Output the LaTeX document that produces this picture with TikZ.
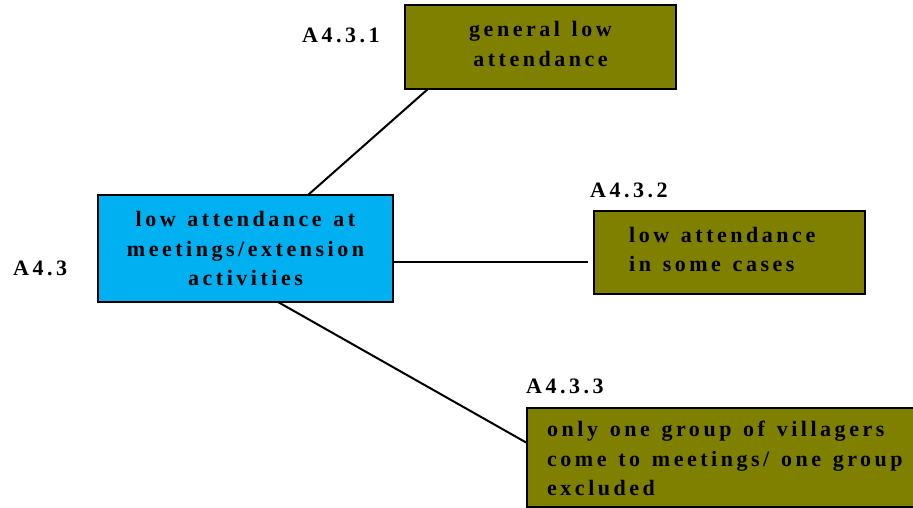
\documentclass[tikz,border=0pt]{standalone}
\usepackage{fontspec}
\setmainfont{Liberation Serif}[LetterSpace=16,WordSpace=1.3]
\usetikzlibrary{calc}
\definecolor{olivebox}{RGB}{128,128,0}
\definecolor{bluebox}{RGB}{0,176,240}
\tikzset{
  txt/.style={font=\bfseries\fontsize{22}{29.5}\selectfont},
  box/.style={draw=black, line width=2pt, txt, inner sep=0pt, outer sep=0pt},
  obox/.style={box, fill=olivebox},
  bbox/.style={box, fill=bluebox},
  lab/.style={txt, inner sep=0pt, anchor=west},
  btxt/.style={txt, inner sep=0pt, align=left, anchor=west},
  link/.style={draw=black, line width=2pt}
}
\begin{document}
\begin{tikzpicture}[x=1pt,y=-1pt]
\useasboundingbox (0,0) rectangle (913,508);
\clip (0,0) rectangle (913,508);
% central box
\node[bbox, minimum width=295pt, minimum height=107pt, align=center] (c) at (245.5,248.5)
  {low attendance at\\meetings/extension\\activities};
% A4.3.1
\node[obox, minimum width=271pt, minimum height=84pt] (a1) at (540.5,47) {};
\node[txt, inner sep=0pt, align=center] (t1) at ([yshift=3pt]a1.center) {general low\\attendance};
% A4.3.2
\node[obox, minimum width=271pt, minimum height=83pt] (a2) at (729.5,252.5) {};
\node[btxt] (t2) at ([xshift=35pt,yshift=3pt]a2.west) {low attendance\\in some cases};
% A4.3.3
\node[obox, minimum width=400pt, minimum height=99pt, anchor=west] (a3) at (527,457.5) {};
\node[btxt] (t3) at ([xshift=20pt,yshift=-1pt]a3.west) {only one group of villagers\\come to meetings/ one group\\excluded};
% labels
\node[lab] (l0) at (13,268) {A4.3};
\node[lab] (l1) at (302,35) {A4.3.1};
\node[lab] (l2) at (590,190) {A4.3.2};
\node[lab] (l3) at (526,386) {A4.3.3};
% connectors
\draw[link] ([xshift=210pt]c.north west) -- ([xshift=23pt]a1.south west);
\draw[link] ([yshift=-13.5pt]c.east) -- ([xshift=-6pt,yshift=-9.5pt]a2.west);
\draw[link] ([xshift=180pt]c.south west) -- ([yshift=14.5pt]a3.west);
\end{tikzpicture}
\end{document}
